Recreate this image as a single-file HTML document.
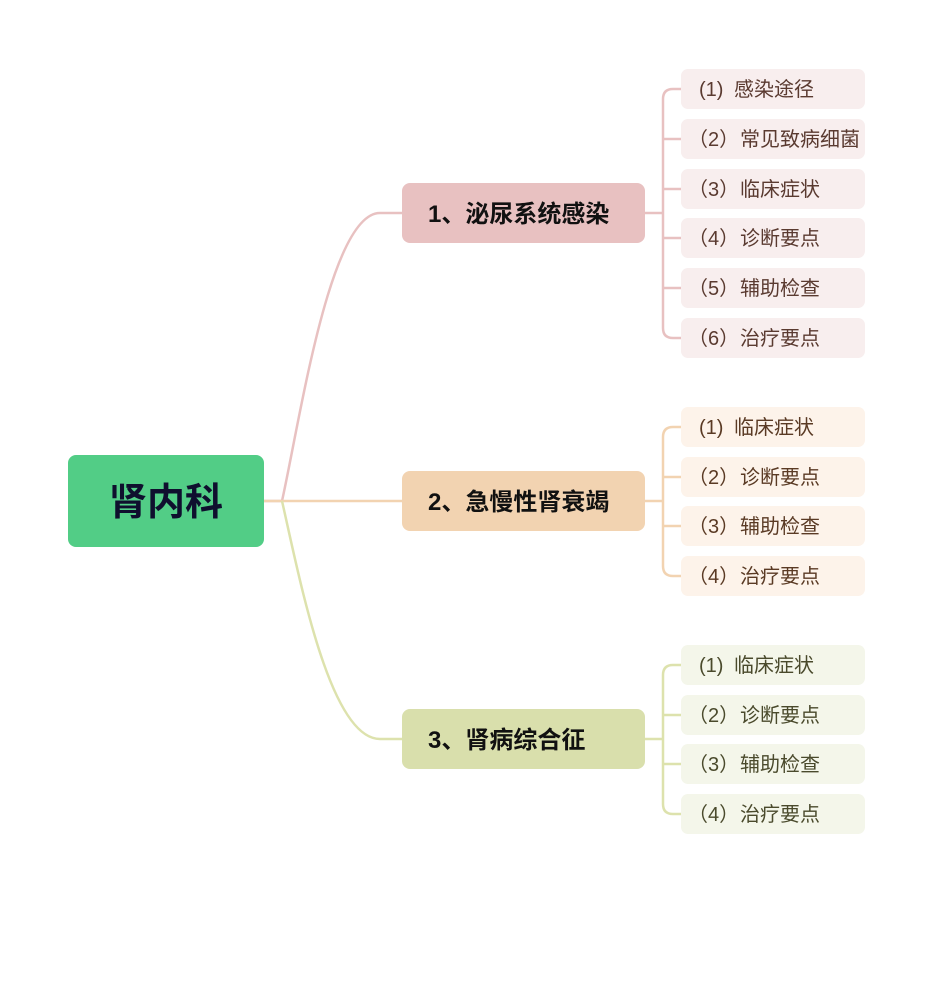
<!DOCTYPE html>
<html><head><meta charset="utf-8"><style>
html,body{margin:0;padding:0;background:#fff;}
svg{display:block;}
text{font-family:"Liberation Sans","Noto Sans CJK SC",sans-serif;}
</style></head><body>
<svg width="935" height="1000" viewBox="0 0 935 1000" xmlns="http://www.w3.org/2000/svg">
<g fill="none" stroke-width="2.5">
<path d="M264 501 H282 C300 420 330 213 380 213 H402" stroke="#e8c1c1"/>
<path d="M264 501 H402" stroke="#f2d3b1"/>
<path d="M282 501 C300 580 330 739 380 739 H402" stroke="#dde2ad"/>
</g>
<g fill="none" stroke="#e8c1c1" stroke-width="2.5">
<path d="M645 213 H663"/>
<path d="M681 89 H673 Q663 89 663 99 V328 Q663 338 673 338 H681"/>
<path d="M663 139 H681"/>
<path d="M663 189 H681"/><path d="M663 238 H681"/><path d="M663 288 H681"/>
</g>
<g fill="none" stroke="#f2d3b1" stroke-width="2.5">
<path d="M645 501 H663"/>
<path d="M681 427 H673 Q663 427 663 437 V566 Q663 576 673 576 H681"/>
<path d="M663 477 H681"/><path d="M663 526 H681"/>
</g>
<g fill="none" stroke="#dde2ad" stroke-width="2.5">
<path d="M645 739 H663"/>
<path d="M681 665 H673 Q663 665 663 675 V804 Q663 814 673 814 H681"/>
<path d="M663 715 H681"/><path d="M663 764 H681"/>
</g>
<rect x="68" y="455" width="196" height="92" rx="8" fill="#52cd86"/>
<text x="166" y="515" text-anchor="middle" font-size="38" font-weight="bold" fill="#0f0f2e">肾内科</text>
<rect x="402" y="183" width="243" height="60" rx="8" fill="#e8c1c1"/>
<text x="428" y="222" font-size="24" font-weight="bold" fill="#111">1、泌尿系统感染</text>
<rect x="402" y="471" width="243" height="60" rx="8" fill="#f2d3b1"/>
<text x="428" y="510" font-size="24" font-weight="bold" fill="#111">2、急慢性肾衰竭</text>
<rect x="402" y="709" width="243" height="60" rx="8" fill="#d9dfac"/>
<text x="428" y="748" font-size="24" font-weight="bold" fill="#111">3、肾病综合征</text>
<g font-size="20" fill="#5a3a30">
<rect x="681" y="69" width="184" height="40" rx="7" fill="#f8eeee"/>
<rect x="681" y="119" width="184" height="40" rx="7" fill="#f8eeee"/>
<rect x="681" y="169" width="184" height="40" rx="7" fill="#f8eeee"/>
<rect x="681" y="218" width="184" height="40" rx="7" fill="#f8eeee"/>
<rect x="681" y="268" width="184" height="40" rx="7" fill="#f8eeee"/>
<rect x="681" y="318" width="184" height="40" rx="7" fill="#f8eeee"/>
<text x="699" y="96">(1)<tspan x="734">感染途径</tspan></text>
<text x="688" y="146">（2）<tspan x="740">常见致病细菌</tspan></text>
<text x="688" y="196">（3）<tspan x="740">临床症状</tspan></text>
<text x="688" y="245">（4）<tspan x="740">诊断要点</tspan></text>
<text x="688" y="295">（5）<tspan x="740">辅助检查</tspan></text>
<text x="688" y="345">（6）<tspan x="740">治疗要点</tspan></text>
</g>
<g font-size="20" fill="#5a3a24">
<rect x="681" y="407" width="184" height="40" rx="7" fill="#fdf3ea"/>
<rect x="681" y="457" width="184" height="40" rx="7" fill="#fdf3ea"/>
<rect x="681" y="506" width="184" height="40" rx="7" fill="#fdf3ea"/>
<rect x="681" y="556" width="184" height="40" rx="7" fill="#fdf3ea"/>
<text x="699" y="434">(1)<tspan x="734">临床症状</tspan></text>
<text x="688" y="484">（2）<tspan x="740">诊断要点</tspan></text>
<text x="688" y="533">（3）<tspan x="740">辅助检查</tspan></text>
<text x="688" y="583">（4）<tspan x="740">治疗要点</tspan></text>
</g>
<g font-size="20" fill="#4a4a2c">
<rect x="681" y="645" width="184" height="40" rx="7" fill="#f4f6ea"/>
<rect x="681" y="695" width="184" height="40" rx="7" fill="#f4f6ea"/>
<rect x="681" y="744" width="184" height="40" rx="7" fill="#f4f6ea"/>
<rect x="681" y="794" width="184" height="40" rx="7" fill="#f4f6ea"/>
<text x="699" y="672">(1)<tspan x="734">临床症状</tspan></text>
<text x="688" y="722">（2）<tspan x="740">诊断要点</tspan></text>
<text x="688" y="771">（3）<tspan x="740">辅助检查</tspan></text>
<text x="688" y="821">（4）<tspan x="740">治疗要点</tspan></text>
</g>
</svg>
</body></html>
